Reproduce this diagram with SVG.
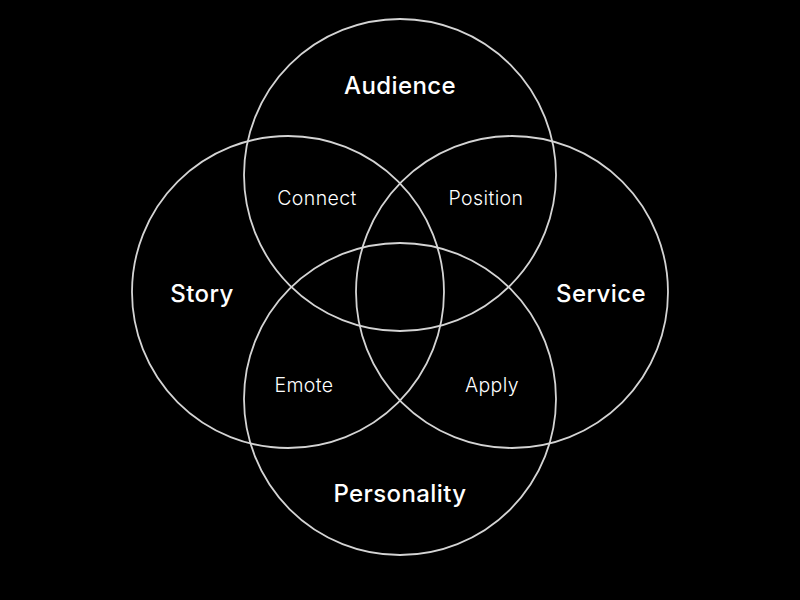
<svg xmlns="http://www.w3.org/2000/svg" width="800" height="600" viewBox="0 0 800 600">
<style>
circle{fill:none;stroke:#d4d4d4;stroke-width:1.8}
text{fill:#fff;font-family:Inter,"Open Sans",sans-serif;text-anchor:middle;dominant-baseline:central;letter-spacing:0.4px}
.m{font-size:24px;font-weight:500}
.s{font-size:19.5px;font-weight:300}
</style>
<rect width="800" height="600" fill="#000"/>
<g id="audience"><circle cx="400" cy="175" r="156"/><text class="m" x="400" y="85">Audience</text></g>
<g id="story"><circle cx="288" cy="292" r="156"/><text class="m" x="202" y="293">Story</text></g>
<g id="service"><circle cx="512" cy="292" r="156"/><text class="m" x="601" y="293">Service</text></g>
<g id="personality"><circle cx="400" cy="399" r="156"/><text class="m" x="400" y="493">Personality</text></g>
<g id="overlaps">
<text class="s" x="317" y="198">Connect</text>
<text class="s" x="486" y="198">Position</text>
<text class="s" x="304" y="385">Emote</text>
<text class="s" x="492" y="385">Apply</text>
</g>
<g id="connectors"/>
</svg>
